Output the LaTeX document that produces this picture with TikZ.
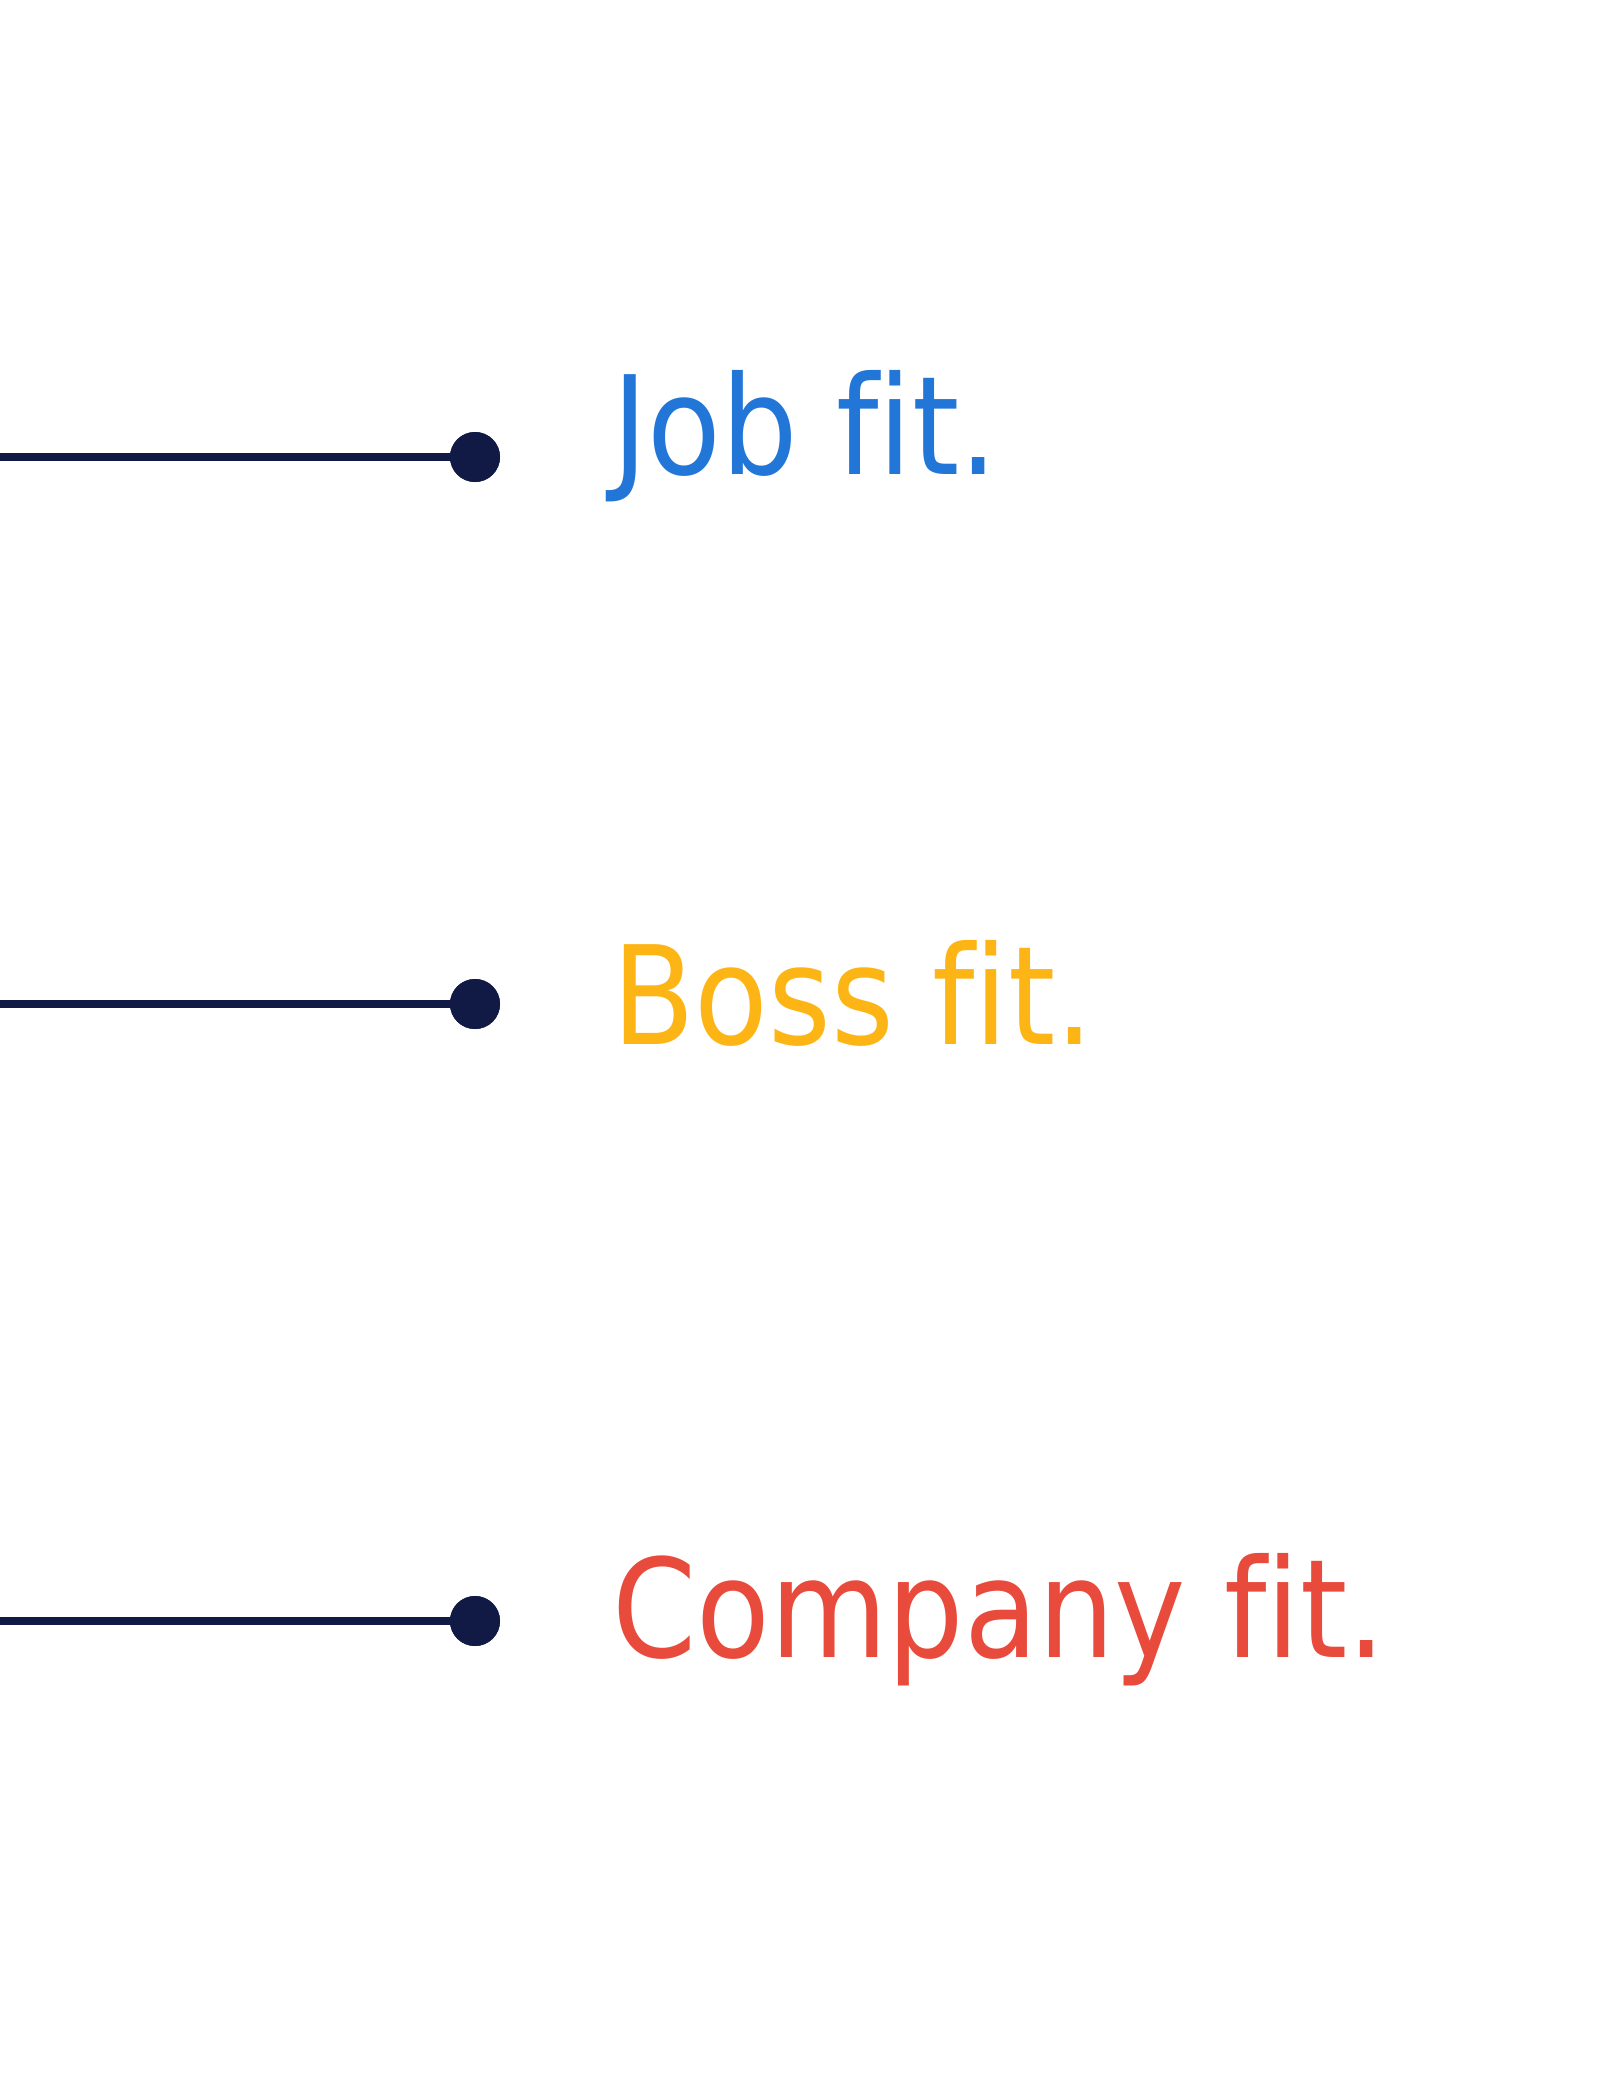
\documentclass[tikz,border=0pt]{standalone}
\usepackage{fontspec}
\newfontfamily\labelfont[FakeStretch=0.88,Ligatures={NoCommon}]{DejaVu Sans}
\definecolor{navy}{HTML}{101A45}
\definecolor{jobblue}{HTML}{2176D8}
\definecolor{bossyellow}{HTML}{FDB515}
\definecolor{compred}{HTML}{E84A3B}
\begin{document}
\begin{tikzpicture}[x=1pt,y=-1pt,
  dotnode/.style={circle,fill=navy,draw=none,minimum size=50pt,inner sep=0pt},
  connector/.style={draw=navy,line width=8pt},
  fitlabel/.style={anchor=base west,inner sep=0pt,font=\labelfont\fontsize{137}{160}\selectfont}]
\useasboundingbox (0,0) rectangle (1601,2084);
\coordinate (s1) at (0,457);
\coordinate (s2) at (0,1004);
\coordinate (s3) at (0,1621);
\node[dotnode] (d1) at (475,457) {};
\node[dotnode] (d2) at (475,1004) {};
\node[dotnode] (d3) at (475,1621) {};
\draw[connector] (s1) -- (d1.center);
\draw[connector] (s2) -- (d2.center);
\draw[connector] (s3) -- (d3.center);
\node[dotnode] at (d1) {};
\node[dotnode] at (d2) {};
\node[dotnode] at (d3) {};
\node[fitlabel,text=jobblue] (t1) at (612,474) {Job fit.};
\node[fitlabel,text=bossyellow] (t2) at (612,1044) {Boss fit.};
\node[fitlabel,text=compred] (t3) at (612,1657) {Company fit.};
\end{tikzpicture}
\end{document}
